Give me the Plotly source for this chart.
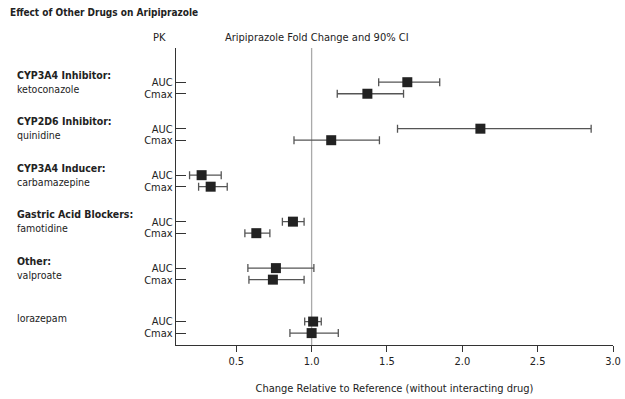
import plotly.graph_objects as go

# ---- data ----
groups = ["CYP3A4 Inhibitor:", "CYP2D6 Inhibitor:", "CYP3A4 Inducer:",
          "Gastric Acid Blockers:", "Other:", ""]
drugs = ["ketoconazole", "quinidine", "carbamazepine", "famotidine", "valproate", "lorazepam"]
group_pos = [0, 1, 2, 3, 4, 5.15]

auc_est = [1.635, 2.12, 0.27, 0.876, 0.763, 1.01]
auc_lo = [1.445, 1.57, 0.19, 0.806, 0.577, 0.954]
auc_hi = [1.85, 2.855, 0.40, 0.95, 1.015, 1.064]

cmax_est = [1.37, 1.13, 0.33, 0.633, 0.743, 1.00]
cmax_lo = [1.17, 0.883, 0.25, 0.557, 0.584, 0.856]
cmax_hi = [1.61, 1.45, 0.44, 0.723, 0.95, 1.177]

x_ticks = [0.5, 1.0, 1.5, 2.0, 2.5, 3.0]
x_tick_labels = ["0.5", "1.0", "1.5", "2.0", "2.5", "3.0"]

FONT = "DejaVu Sans Condensed, Liberation Sans, sans-serif"
off = 0.124

y_auc = [g - off for g in group_pos]
y_cmax = [g + off for g in group_pos]

fig = go.Figure()

for ys, est, lo, hi in [(y_auc, auc_est, auc_lo, auc_hi), (y_cmax, cmax_est, cmax_lo, cmax_hi)]:
    fig.add_trace(go.Scatter(
        x=est, y=ys, mode="markers",
        marker=dict(symbol="square", size=10, color="#222222"),
        error_x=dict(type="data", symmetric=False,
                     array=[h - e for h, e in zip(hi, est)],
                     arrayminus=[e - l for e, l in zip(est, lo)],
                     color="#555555", thickness=1.3, width=4),
        showlegend=False, hoverinfo="skip"))

# reference line at 1.0
fig.add_shape(type="line", xref="x", yref="paper", x0=1, x1=1, y0=0, y1=1,
              line=dict(color="#aaaaaa", width=1.3), layer="below")

tickvals = []
ticktext = []
for a, c in zip(y_auc, y_cmax):
    tickvals += [a, c]
    ticktext += ["AUC", "Cmax"]

# group labels
for g, d, p in zip(groups, drugs, group_pos):
    if g:
        txt = "<b>" + g + "</b><br>" + d
        yy = p - 0.13
    else:
        txt = d
        yy = p - 0.2
    fig.add_annotation(text=txt, xref="paper", yref="y", x=-0.369, y=yy,
                       xanchor="left", yanchor="middle", align="left", showarrow=False,
                       font=dict(family=FONT, size=10.5, color="#222222"))

fig.add_annotation(text="<b>Effect of Other Drugs on Aripiprazole</b>", xref="paper", yref="paper",
                   x=-0.385, y=1.121, xanchor="left", yanchor="middle", showarrow=False,
                   font=dict(family=FONT, size=10, color="#222222"))
fig.add_annotation(text="PK", xref="paper", yref="paper", x=-0.037, y=1.034,
                   xanchor="center", yanchor="middle", showarrow=False,
                   font=dict(family=FONT, size=11, color="#222222"))
fig.add_annotation(text="Aripiprazole Fold Change and 90% CI", xref="paper", yref="paper",
                   x=0.323, y=1.034, xanchor="center", yanchor="middle", showarrow=False,
                   font=dict(family=FONT, size=11, color="#222222"))

fig.update_layout(
    width=625, height=399,
    margin=dict(l=176, r=12, t=48, b=54, autoexpand=False),
    paper_bgcolor="white", plot_bgcolor="white",
    font=dict(family=FONT, size=11, color="#222222"),
    xaxis=dict(range=[0.1, 3.0], tickvals=x_ticks, ticktext=x_tick_labels, automargin=False,
               showgrid=False, zeroline=False, showline=True, linecolor="#333333", linewidth=1.3,
               ticks="outside", ticklen=6, tickcolor="#333333",
               title=dict(text="Change Relative to Reference (without interacting drug)",
                          standoff=16, font=dict(size=11))),
    yaxis=dict(range=[5.53, -0.86], tickvals=tickvals, ticktext=ticktext, automargin=False,
               showgrid=False, zeroline=False, showline=True, linecolor="#333333", linewidth=1.3,
               ticks="inside", ticklen=10, tickcolor="#333333", ticklabelstandoff=0,
               tickfont=dict(size=11)),
)

fig.write_html("out.html", config={"displayModeBar": False},
               post_script="document.body.style.margin='0';document.body.style.overflow='hidden';")
